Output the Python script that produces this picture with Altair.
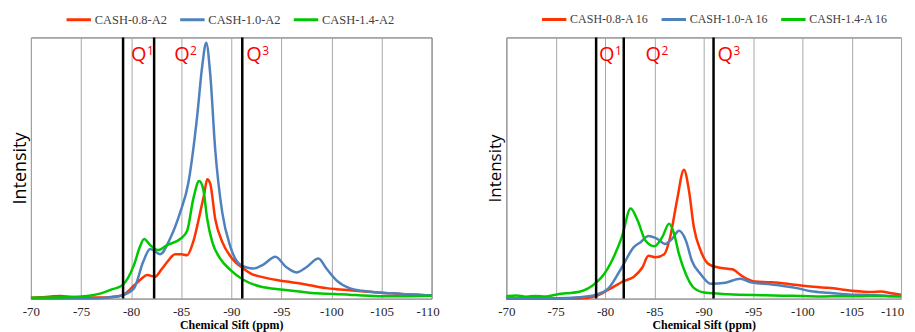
import altair as alt
import pandas as pd

# ---------------- data ----------------
X_TICKS = [-70, -75, -80, -85, -90, -95, -100, -105, -110]
SERIES_COLORS = ["#FF3300", "#4F81BD", "#00C800"]
Q_LETTERS = ["Q", "Q", "Q"]
Q_SUPERS = ["1", "2", "3"]

left_names = ["CASH-0.8-A2", "CASH-1.0-A2", "CASH-1.4-A2"]
right_names = ["CASH-0.8-A 16", "CASH-1.0-A 16", "CASH-1.4-A 16"]

# Left panel (A2)
l_red_ppm = [-70, -71, -72, -73, -74, -75, -76, -77, -78, -79.1, -80.3, -81.0, -81.6, -82.4, -83.0, -83.6, -84.4,
             -85.0, -85.6, -86.2, -86.9, -87.3, -87.6, -87.9, -88.4, -89.1, -90.1, -91.2, -92.0, -92.9, -94.4,
             -95.5, -96.9, -98.0, -99.5, -100.5, -101.8, -103, -104, -105, -106, -107, -108, -109, -110]
l_red_int = [0.3, 0.5, 0.8, 1.0, 0.6, 0.5, 0.4, 0.4, 0.6, 1.2, 5, 7.5, 9, 8.4, 11, 14, 17,
             17, 16.6, 21.7, 33, 40, 45.7, 44, 30.5, 21.7, 15.3, 11.5, 9.5, 8.4, 7.2,
             6.5, 5.8, 5.0, 4.0, 3.6, 3.2, 2.8, 2.5, 2.2, 2.0, 1.8, 1.5, 1.4, 1.2]

l_blue_ppm = [-70, -72, -74, -76, -77, -78, -79.1, -80.3, -81.2, -81.9, -82.9, -83.9, -84.9, -85.7, -86.6, -87.1,
              -87.5, -87.9, -88.4, -89.1, -89.9, -90.9, -92.2, -93.2, -94.4, -95.5, -96.5, -97.5, -98.7, -99.5,
              -100.5, -101.8, -103, -104, -105, -106, -107, -108, -109, -110]
l_blue_int = [0, 0, 0, 0, 0.2, 0.5, 1.2, 4, 14, 19, 17, 23, 33, 44, 70, 89,
              98, 86, 57, 33, 20, 13, 11.5, 13, 16, 12, 10, 12, 15.3, 11.5,
              7, 4, 3, 2.6, 2.2, 2, 1.8, 1.6, 1.4, 1.3]

l_green_ppm = [-70, -72, -74, -75, -76, -77, -78, -79.1, -80.3, -80.9, -81.3, -81.9, -82.7, -83.6, -84.9, -85.6,
               -86.2, -86.8, -87.2, -87.6, -88.1, -88.9, -89.9, -91.2, -92.9, -95.2, -97, -98.5, -100, -101.8,
               -103, -105, -107, -109, -110]
l_green_int = [0.3, 0.4, 0.6, 0.8, 1.2, 2, 3.4, 5, 13, 20, 22.8, 20.5, 18.6, 20.5, 22.8, 26,
               38, 45, 42, 30.5, 21.7, 15.3, 11, 7.2, 4.6, 3.4, 2.6, 2, 1.8, 1.5,
               1.2, 0.9, 0.9, 1.0, 1.1]

# Right panel (A 16)
r_red_ppm = [-70, -72, -74, -76, -77.4, -79.1, -80.4, -81.9, -82.9, -83.8, -84.4, -85.1, -86.0, -86.6, -87.3,
             -88.0, -88.5, -89.0, -89.7, -90.5, -91.5, -92.9, -93.9, -95.2, -96.5, -97.6, -99, -100.3, -101.5,
             -102.6, -104, -105, -106, -107, -108, -109, -110]
r_red_int = [0, 0, 0, 0, 0, 1, 3.5, 6.7, 8.3, 12, 16.4, 15.8, 17, 23.5, 37.7,
             49.3, 41.6, 27.4, 18.3, 13.2, 11.9, 11.2, 8.6, 6.5, 6.3, 6.1, 5.4, 4.8, 4.4,
             4.1, 3.5, 3, 2.7, 2.5, 2.7, 2, 1.5]

r_blue_ppm = [-70, -72, -74, -76, -77.4, -79.1, -80.4, -81.7, -82.9, -83.6, -84.4, -85.3, -86.1, -86.8, -87.5,
              -88.2, -88.8, -89.7, -90.7, -92.2, -93.7, -94.9, -96.9, -99.3, -100.9, -102.6, -104, -105, -106,
              -107, -108, -109, -110]
r_blue_int = [0, 0, 0, 0.2, 0.5, 1.5, 4.1, 11.9, 19.6, 21.6, 24, 22.9, 20.9, 22.9, 26,
              22.2, 14.5, 9.3, 5.7, 6.1, 7.6, 6.1, 5.4, 4.1, 2.8, 2.2, 1.8, 1.5, 1.5,
              1.3, 1.2, 1.0, 1.0]

r_green_ppm = [-70, -71, -72, -73, -74, -75, -76, -77.4, -79.1, -79.9, -80.7, -81.7, -82.6, -83.3, -84.1, -85.0,
               -85.8, -86.5, -87.0, -87.5, -88.2, -89.0, -90.2, -92.5, -95.9, -98, -100, -102, -104, -106,
               -108, -110]
r_green_int = [0.9, 1.2, 0.7, 1.0, 0.8, 1.5, 2, 2.6, 6.1, 9.3, 14.5, 23.5, 34.5, 30, 22.2, 20,
               23.5, 28.7, 24.8, 17, 9.3, 4.1, 2.2, 1.7, 1.3, 1.1, 1.0, 0.8, 0.9, 0.9,
               1.0, 0.8]

# Q markers
l_q_lines = [-79.2, -82.3, -91.1]
l_q_text_x = [-80.0, -84.3, -91.5]
l_q_text_y = [91, 91, 91]
r_q_lines = [-79.1, -81.9, -91.0]
r_q_text_x = [-79.4, -84.1, -91.4]
r_q_text_y = [91, 91, 91]

SERIF = "Liberation Serif"
SANS = "Open Sans"


def panel(names, ppms, ints, q_lines, q_x, q_y, width, height, ytitle_size, ytitle_pad,
          legend_x, legend_font, last_shift):
    rows = []
    for name, xs, ys in zip(names, ppms, ints):
        for x, y in zip(xs, ys):
            rows.append({"ppm": x, "intensity": y, "series": name})
    df = pd.DataFrame(rows)

    x_scale = alt.Scale(domain=[-110, -70], reverse=True, nice=False, zero=False)
    y_scale = alt.Scale(domain=[0, 100], nice=False, zero=False)
    x_axis = alt.Axis(
        values=X_TICKS, title="Chemical Sift (ppm)", labelExpr="'' + datum.value",
        grid=True, gridColor="#A8A8A8", gridWidth=1, ticks=False, domain=False,
        labelPadding=7, titlePadding=1, labelFont=SERIF, labelFontSize=13, labelColor="#262626",
        titleFont=SERIF, titleFontSize=12, titleFontWeight="bold", titleColor="#000000",
        labelFlush=False,
        labelOffset={"condition": {"test": "datum.value == -110", "value": last_shift}, "value": 0})
    y_axis = alt.Axis(
        title="Intensity", labels=False, ticks=False, grid=False, domain=False,
        titleFont=SANS, titleFontSize=ytitle_size, titleFontWeight="normal",
        titleColor="#000000", titlePadding=ytitle_pad)

    lines = alt.Chart(df).mark_line(strokeWidth=2.5, interpolate="monotone").encode(
        x=alt.X("ppm:Q", scale=x_scale, axis=x_axis),
        y=alt.Y("intensity:Q", scale=y_scale, axis=y_axis),
        color=alt.Color("series:N", scale=alt.Scale(domain=names, range=SERIES_COLORS),
                        legend=alt.Legend(orient="none", legendX=legend_x, legendY=-32,
                                          direction="horizontal", title=None, symbolType="stroke",
                                          symbolStrokeWidth=3, symbolSize=600,
                                          labelFont=SERIF, labelFontSize=legend_font, labelColor="#404040",
                                          labelOffset=2, columnPadding=6)),
    )

    rules = alt.Chart(pd.DataFrame({"ppm": q_lines})).mark_rule(color="#000000", strokeWidth=2.5).encode(
        x=alt.X("ppm:Q", scale=x_scale, axis=x_axis)
    )

    qdf = pd.DataFrame({"ppm": q_x, "intensity": q_y, "q": Q_LETTERS, "s": Q_SUPERS})
    q_main = alt.Chart(qdf).mark_text(
        font=SANS, fontSize=20, color="#FF0000", align="left", baseline="alphabetic"
    ).encode(
        x=alt.X("ppm:Q", scale=x_scale, axis=x_axis),
        y=alt.Y("intensity:Q", scale=y_scale, axis=y_axis),
        text="q:N",
    )
    q_sup = alt.Chart(qdf).mark_text(
        font=SANS, fontSize=12, color="#FF0000", align="left", baseline="alphabetic", dx=16, dy=-6
    ).encode(
        x=alt.X("ppm:Q", scale=x_scale, axis=x_axis),
        y=alt.Y("intensity:Q", scale=y_scale, axis=y_axis),
        text="s:N",
    )

    return alt.layer(lines, rules, q_main, q_sup).properties(width=width, height=height)


left = panel(left_names, [l_red_ppm, l_blue_ppm, l_green_ppm], [l_red_int, l_blue_int, l_green_int],
             l_q_lines, l_q_text_x, l_q_text_y, 402, 262, 18, 1, 34, 12.5, -4)
right = panel(right_names, [r_red_ppm, r_blue_ppm, r_green_ppm], [r_red_int, r_blue_int, r_green_int],
              r_q_lines, r_q_text_x, r_q_text_y, 396, 262, 17, 2, 34, 12, -9)

chart = alt.hconcat(left, right, spacing=75, bounds="flush").resolve_scale(
    color="independent", x="independent", y="independent"
).properties(
    padding={"left": 3, "top": -4, "right": 0, "bottom": 0}
).configure_view(
    stroke="#5E5E5E", strokeWidth=1
)

chart.save("out.html", embed_options={"renderer": "svg", "actions": False})
